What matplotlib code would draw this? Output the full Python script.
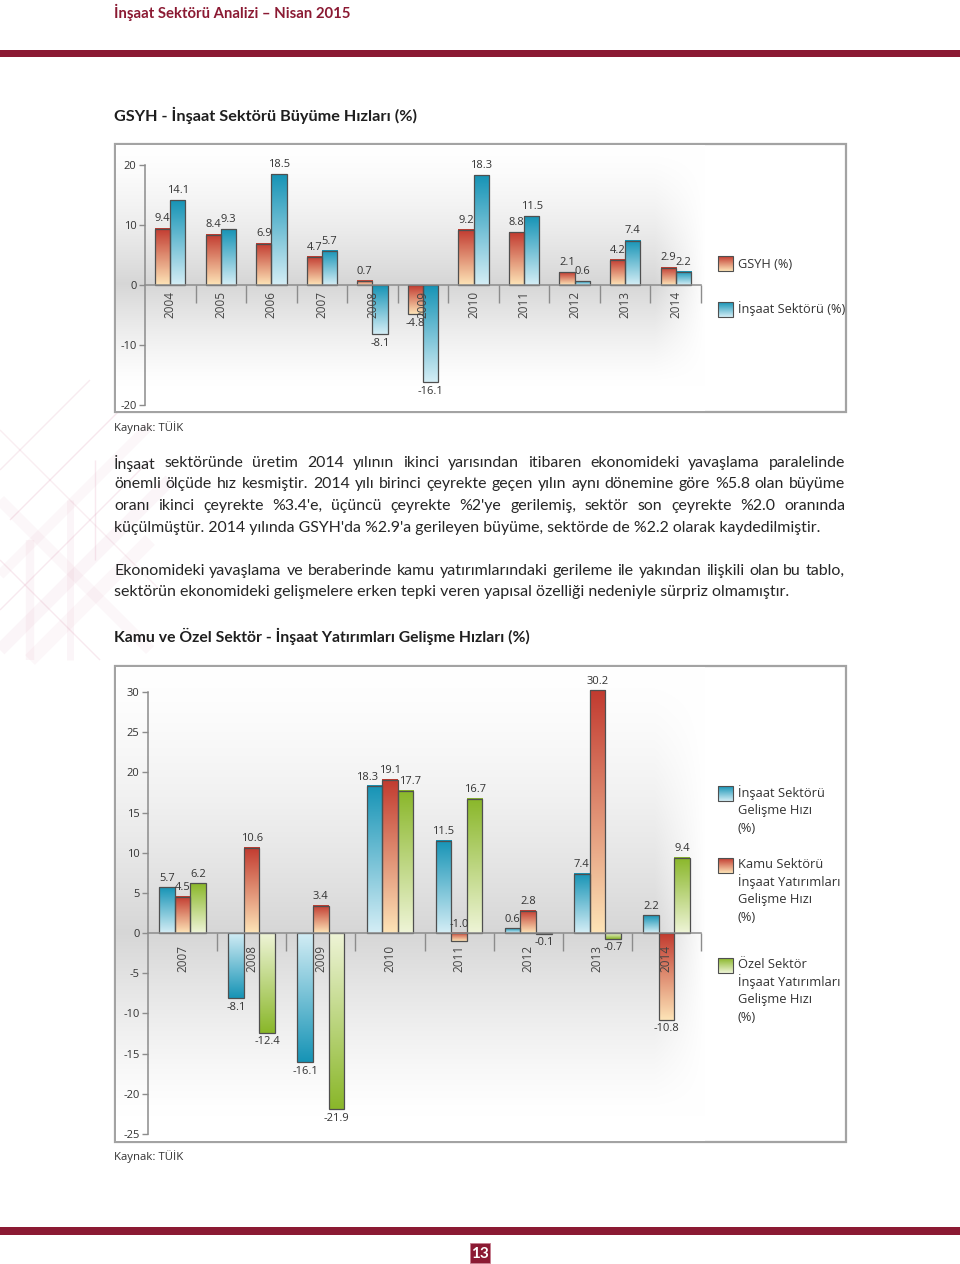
import numpy as np
import matplotlib
matplotlib.use('Agg')
import matplotlib.pyplot as plt
from matplotlib.patches import Rectangle
from matplotlib.colors import to_rgb

# ---------------- DATA ----------------
years1 = ['2004', '2005', '2006', '2007', '2008', '2009', '2010', '2011', '2012', '2013', '2014']
gsyh = [9.4, 8.4, 6.9, 4.7, 0.7, -4.8, 9.2, 8.8, 2.1, 4.2, 2.9]
insaat1 = [14.1, 9.3, 18.5, 5.7, -8.1, -16.1, 18.3, 11.5, 0.6, 7.4, 2.2]
yticks1 = [-20, -10, 0, 10, 20]

years2 = ['2007', '2008', '2009', '2010', '2011', '2012', '2013', '2014']
insaat2 = [5.7, -8.1, -16.1, 18.3, 11.5, 0.6, 7.4, 2.2]
kamu = [4.5, 10.6, 3.4, 19.1, -1.0, 2.8, 30.2, -10.8]
ozel = [6.2, -12.4, -21.9, 17.7, 16.7, -0.1, -0.7, 9.4]
yticks2 = [-25, -20, -15, -10, -5, 0, 5, 10, 15, 20, 25, 30]

legend1 = ['GSYH (%)', 'İnşaat Sektörü (%)']
legend2 = [['İnşaat Sektörü', 'Gelişme Hızı', '(%)'],
           ['Kamu Sektörü', 'İnşaat Yatırımları', 'Gelişme Hızı', '(%)'],
           ['Özel Sektör', 'İnşaat Yatırımları', 'Gelişme Hızı', '(%)']]

header = 'İnşaat Sektörü Analizi – Nisan 2015'
title1 = 'GSYH - İnşaat Sektörü Büyüme Hızları (%)'
title2 = 'Kamu ve Özel Sektör - İnşaat Yatırımları Gelişme Hızları (%)'
source = 'Kaynak: TÜİK'
para1 = ['İnşaat sektöründe üretim 2014 yılının ikinci yarısından itibaren ekonomideki yavaşlama paralelinde',
         'önemli ölçüde hız kesmiştir. 2014 yılı birinci çeyrekte geçen yılın aynı dönemine göre %5.8 olan büyüme',
         "oranı ikinci çeyrekte %3.4'e, üçüncü çeyrekte %2'ye gerilemiş, sektör son çeyrekte %2.0 oranında",
         "küçülmüştür. 2014 yılında GSYH'da %2.9'a gerileyen büyüme, sektörde de %2.2 olarak kaydedilmiştir."]
para2 = ['Ekonomideki yavaşlama ve beraberinde kamu yatırımlarındaki gerileme ile yakından ilişkili olan bu tablo,',
         'sektörün ekonomideki gelişmelere erken tepki veren yapısal özelliği nedeniyle sürpriz olmamıştır.']
page_no = '13'

# ---------------- STYLE ----------------
MAROON = '#8b1a33'
RED = ('#c23b30', '#fde3b6')
BLUE = ('#1794b6', '#d3edf5')
GREEN = ('#8ab72a', '#eef4d6')
EDGE = '#4f4f4f'
AXC = '#8c8c8c'
BODY_FONT = ['Lato', 'DejaVu Sans']
CHART_FONT = ['Open Sans', 'DejaVu Sans']

W, H = 960, 1264
fig = plt.figure(figsize=(W / 100, H / 100), dpi=100)
fig.patch.set_facecolor('white')


def ax_px(x0, y0, x1, y1, z):
    a = fig.add_axes([x0 / W, 1 - y1 / H, (x1 - x0) / W, (y1 - y0) / H])
    a.set_zorder(z)
    return a


page = ax_px(0, 0, W, H, 0)
page.set_xlim(0, W)
page.set_ylim(H, 0)
page.axis('off')

renderer = fig.canvas.get_renderer()


def grad_img(c_top, c_bot, n=64):
    t = np.linspace(0, 1, n)[:, None, None]
    a = np.array(to_rgb(c_top))[None, None, :]
    b = np.array(to_rgb(c_bot))[None, None, :]
    return a * (1 - t) + b * t


def twidth(s, **kw):
    t = page.text(0, 0, s, **kw)
    w = t.get_window_extent(renderer).width
    t.remove()
    return w


def fit_size(s, target, base=10, **kw):
    return base * target / twidth(s, fontsize=base, **kw)


# ---------------- PAGE DECORATION ----------------
# watermark (faint pink diagonal pattern)
wm = [((0, 650), (170, 480), 9, 0.07), ((0, 575), (150, 425), 7, 0.06), ((10, 520), (140, 390), 1, 0.18),
      ((0, 470), (90, 380), 1, 0.15), ((0, 610), (150, 460), 1, 0.16), ((30, 660), (150, 540), 10, 0.06),
      ((0, 430), (160, 590), 1, 0.13), ((0, 500), (150, 650), 8, 0.06), ((0, 560), (100, 660), 1, 0.16),
      ((30, 540), (30, 660), 6, 0.07), ((70, 500), (70, 660), 5, 0.07), ((95, 460), (95, 560), 1, 0.16)]
for (p0, p1, lw, al) in wm:
    page.plot([p0[0], p1[0]], [p0[1], p1[1]], color='#d47c9c', lw=lw, alpha=al, solid_capstyle='butt', zorder=0)

page.add_patch(Rectangle((0, 50), W, 6.5, facecolor=MAROON, edgecolor='none', zorder=1))
page.add_patch(Rectangle((0, 1227), W, 7.5, facecolor=MAROON, edgecolor='none', zorder=1))
page.add_patch(Rectangle((470, 1243), 20, 20, facecolor=MAROON, edgecolor='#c77d8f', lw=0.6, zorder=1))
page.text(480, 1253.5, page_no, color='white', fontsize=11, fontweight='bold', family=BODY_FONT,
          ha='center', va='center', zorder=2)

hs = fit_size(header, 235, weight='bold', family=BODY_FONT)
page.text(114, 12, header, fontsize=hs, fontweight='bold', color=MAROON, family=BODY_FONT, va='center')
ts1 = fit_size(title1, 304, weight='bold', family=BODY_FONT)
page.text(114, 115, title1, fontsize=ts1, fontweight='bold', color='#1f1f1f', family=BODY_FONT, va='center')
ts2 = fit_size(title2, 416, weight='bold', family=BODY_FONT)
page.text(114, 636, title2, fontsize=ts2, fontweight='bold', color='#1f1f1f', family=BODY_FONT, va='center')

ss = fit_size(source, 69, family=CHART_FONT)
page.text(114, 428, source, fontsize=ss, color='#333333', family=CHART_FONT, va='center')
page.text(114, 1157, source, fontsize=ss, color='#333333', family=CHART_FONT, va='center')


def paragraph(lines, ys, last_end, x0=114, x1=845):
    fs = fit_size(lines[-1], last_end - x0, family=BODY_FONT)
    for i, (s, y) in enumerate(zip(lines, ys)):
        if i == len(lines) - 1:
            page.text(x0, y, s, fontsize=fs, color='#262626', family=BODY_FONT, va='center')
            continue
        f = fs
        words = s.split(' ')
        while True:
            widths = [twidth(w, fontsize=f, family=BODY_FONT) for w in words]
            gap = (x1 - x0 - sum(widths)) / (len(words) - 1)
            if gap >= 2.6:
                break
            f *= 0.985
        x = x0
        for w, wd in zip(words, widths):
            page.text(x, y, w, fontsize=f, color='#262626', family=BODY_FONT, va='center')
            x += wd + gap


paragraph(para1, [463, 484, 506, 528], 820)
paragraph(para2, [571, 592], 793)


def legend_square(x, y, colors):
    page.imshow(grad_img(*colors), extent=(x, x + 15, y + 15, y), origin='upper', aspect='auto',
                interpolation='bilinear', zorder=2)
    page.add_patch(Rectangle((x, y), 15, 15, facecolor='none', edgecolor=EDGE, lw=0.8, zorder=3))


# ---------------- CHART HELPERS ----------------
def chart_box(x0, y0, x1, y1):
    page.add_patch(Rectangle((x0, y0), x1 - x0, y1 - y0, facecolor='white', edgecolor='#a3a3a3', lw=1.6, zorder=1))


def chart_background(x0, y0, x1, y1, yzero, fade_start):
    bg = ax_px(x0, y0, x1, y1, 1)
    bg.axis('off')
    ys = np.arange(y0, y1) + 0.5
    xs = np.arange(x0, x1) + 0.5
    g = np.where(ys < yzero, ((ys - y0) / (yzero - y0)) ** 1.5, np.clip((y1 - 25 - ys) / (y1 - 25 - yzero), 0, 1) ** 1.3)
    hf = np.clip((x1 - xs) / (x1 - fade_start), 0, 1)
    d = 0.16 * g[:, None] * hf[None, :]
    img = 1 - d
    bg.imshow(np.dstack([img, img, img]), extent=(0, 1, 0, 1), aspect='auto', origin='upper')
    bg.set_xlim(0, 1)
    bg.set_ylim(0, 1)


def gradient_bars(ax, x, vals, width, colors, neg_dark_at_tip):
    dark, light = colors
    bars = ax.bar(x, vals, width, facecolor='none', edgecolor=EDGE, linewidth=0.9, zorder=1.5, clip_on=False)
    for b, v in zip(bars, vals):
        x0, w, y0, h = b.get_x(), b.get_width(), b.get_y(), b.get_height()
        lo, hi = min(y0, y0 + h), max(y0, y0 + h)
        top, bot = (light, dark) if (v < 0 and neg_dark_at_tip) else (dark, light)
        ax.imshow(grad_img(top, bot), extent=(x0, x0 + w, lo, hi), origin='upper', aspect='auto',
                  interpolation='bilinear', zorder=1, clip_on=False)
    return bars


def value_labels(ax, bars, vals, dy, above_zero=(), xshift=None):
    xshift = xshift or {}
    for i, (b, v) in enumerate(zip(bars, vals)):
        cx = b.get_x() + b.get_width() / 2
        if i in above_zero:
            y, off, va = 0, dy, 'bottom'
        elif v >= 0:
            y, off, va = v, dy, 'bottom'
        else:
            y, off, va = v, -dy, 'top'
        ax.annotate(f'{v:.1f}', (cx, y), xytext=(xshift.get(i, 0), off), textcoords='offset points',
                    ha='center', va=va, fontsize=8, color='#333333', family=CHART_FONT, zorder=4,
                    annotation_clip=False)


def style_axes(ax, labels, yticks, pad):
    n = len(labels)
    ax.set_xlim(-0.5, n - 0.5)
    ax.set_ylim(yticks[0], yticks[-1])
    ax.patch.set_alpha(0)
    for s in ['top', 'right']:
        ax.spines[s].set_visible(False)
    for s in ['left', 'bottom']:
        ax.spines[s].set_color(AXC)
        ax.spines[s].set_linewidth(1.1)
    ax.spines['bottom'].set_position(('data', 0))
    ax.set_yticks(yticks)
    ax.set_yticklabels([str(t) for t in yticks], family=CHART_FONT)
    ax.tick_params(axis='y', direction='out', length=4, width=1, color=AXC, labelsize=8, labelcolor='#333333', pad=2)
    ax.set_xticks(np.arange(n))
    ax.set_xticklabels(labels, rotation=90, family=CHART_FONT)
    ax.tick_params(axis='x', which='major', length=0, pad=pad, labelsize=8.5, labelcolor='#444444')
    ax.set_xticks(np.arange(n) + 0.5, minor=True)
    ax.tick_params(axis='x', which='minor', length=13, width=1, direction='out', color=AXC)
    ax.set_axisbelow(False)


# ---------------- CHART 1 ----------------
chart_box(115, 144, 846, 412)
chart_background(116, 145, 705, 411, 284, 655)
ax1 = ax_px(145, 165, 701, 405, 2)
x1 = np.arange(len(years1))
bw1 = 0.3
b_g = gradient_bars(ax1, x1 - bw1 / 2, gsyh, bw1, RED, False)
b_i = gradient_bars(ax1, x1 + bw1 / 2, insaat1, bw1, BLUE, False)
value_labels(ax1, b_g, gsyh, 3)
value_labels(ax1, b_i, insaat1, 3)
style_axes(ax1, years1, yticks1, 4.5)

legend_square(718, 256, RED)
legend_square(718, 302, BLUE)
page.text(738, 264, legend1[0], fontsize=9.2, color='#333333', family=CHART_FONT, va='center')
page.text(738, 309, legend1[1], fontsize=9.2, color='#333333', family=CHART_FONT, va='center')

# ---------------- CHART 2 ----------------
chart_box(115, 666, 846, 1142)
chart_background(116, 667, 705, 1141, 933, 655)
ax2 = ax_px(148, 692, 701, 1134, 2)
x2 = np.arange(len(years2))
bw2 = 0.225
b_b = gradient_bars(ax2, x2 - bw2, insaat2, bw2, BLUE, True)
b_r = gradient_bars(ax2, x2, kamu, bw2, RED, False)
b_v = gradient_bars(ax2, x2 + bw2, ozel, bw2, GREEN, True)
value_labels(ax2, b_b, insaat2, 2.5, xshift={years2.index('2010'): -5})
value_labels(ax2, b_r, kamu, 2.5, above_zero=(years2.index('2011'),))
value_labels(ax2, b_v, ozel, 2.5, xshift={years2.index('2010'): 3})
style_axes(ax2, years2, yticks2, 8.5)

sq_tops = [786, 858, 958]
line_tops = [793, 864, 964]
for cols, top, ly, lines in zip([BLUE, RED, GREEN], sq_tops, line_tops, legend2):
    legend_square(718, top, cols)
    for k, s in enumerate(lines):
        page.text(738, ly + 17.8 * k, s, fontsize=9.3, color='#333333', family=CHART_FONT, va='center')

fig.savefig('out.png', dpi=100, facecolor='white')
